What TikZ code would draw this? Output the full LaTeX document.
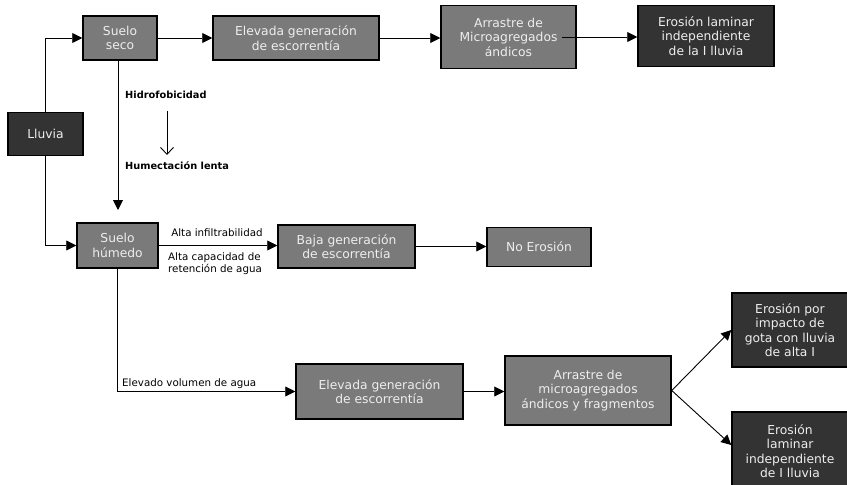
\documentclass[tikz,border=0pt]{standalone}
\usepackage{fontspec}
\setmainfont{DejaVu Sans}
\usetikzlibrary{arrows.meta}
\definecolor{boxgray}{HTML}{7A7A7A}
\definecolor{boxdark}{HTML}{333333}
\definecolor{boxtext}{HTML}{EEEEEE}
\begin{document}
\begin{tikzpicture}[x=1pt,y=-1pt,
  box/.style={draw=black,line width=1.5pt,fill=boxgray,text=boxtext,align=center,
    font=\fontsize{12.3}{14.5}\selectfont,inner sep=0pt},
  darkbox/.style={box,fill=boxdark},
  conn/.style={line width=0.9pt,-{Triangle[length=10pt,width=10pt]}},
  lbl/.style={font=\fontsize{10.3}{12.8}\selectfont,inner sep=0pt,align=left},
  blbl/.style={lbl,font=\bfseries\fontsize{9.8}{12.5}\selectfont}
]
\useasboundingbox (0,0) rectangle (847,485);
\fill[white] (0,0) rectangle (847,485);
\clip (0,0) rectangle (847,485);

% nodes
\node[darkbox,minimum width=75pt,minimum height=43pt] (lluvia) at (45.5,134) {Lluvia};
\node[box,minimum width=74pt,minimum height=44pt] (sseco) at (120,38) {Suelo\\seco};
\node[box,minimum width=166pt,minimum height=44pt] (elev1) at (296,38) {Elevada generación\\de escorrentía};
\node[box,minimum width=135pt,minimum height=63pt] (arr1) at (508.5,37) {Arrastre de\\Microagregados\\ándicos};
\node[darkbox,minimum width=136pt,minimum height=61pt] (ero1) at (706,36) {Erosión laminar\\independiente\\de la I lluvia};

\node[box,minimum width=81pt,minimum height=45pt] (shum) at (117.5,245.5) {Suelo\\húmedo};
\node[box,minimum width=137pt,minimum height=43pt] (baja) at (346.5,246.5) {Baja generación\\de escorrentía};
\node[box,minimum width=104pt,minimum height=39pt] (noero) at (539,247) {No Erosión};

\node[box,minimum width=167pt,minimum height=55pt] (elev2) at (379.5,391.5) {Elevada generación\\de escorrentía};
\node[box,minimum width=166pt,minimum height=69pt] (arr2) at (588,390.5) {Arrastre de\\microagregados\\ándicos y fragmentos};
\node[darkbox,minimum width=116pt,minimum height=74pt] (ero2) at (790,330) {Erosión por\\impacto de\\gota con lluvia\\de alta I};
\node[darkbox,minimum width=116pt,minimum height=78pt] (ero3) at (790,451) {Erosión\\laminar\\independiente\\de I lluvia};

% labels
\node[blbl,anchor=west] (hidro) at (125,95) {Hidrofobicidad};
\node[blbl,anchor=west] (humec) at (125,166) {Humectación lenta};
\node[lbl,anchor=center] (alta1) at (217,233) {Alta infiltrabilidad};
\node[lbl,anchor=north west] (alta2) at (168,252) {Alta capacidad de\\retención de agua};
\node[lbl,anchor=south west] (elvol) at (122,389) {Elevado volumen de agua};

% coordinates
\coordinate (hum) at (118,210);
\coordinate (h1) at (167,111);
\coordinate (h2) at (167,155);
\coordinate (a1s) at (562,37);

% connectors
\draw[conn] (lluvia.north) |- (sseco.west);
\draw[conn] (lluvia.south) |- (shum.west);
\draw[conn] (sseco.east) -- (elev1.west);
\draw[conn] (elev1.east) -- (elev1.east -| arr1.west);
\draw[conn] (a1s) -- (a1s -| ero1.west);
\draw[conn] (sseco.south -| hum) -- (hum);
\draw[line width=0.9pt,-{Straight Barb[length=7pt,width=13pt]}] (h1) -- (h2);
\draw[conn] (shum.east) -- (shum.east -| baja.west);
\draw[conn] (baja.east) -- (baja.east -| noero.west);
\draw[conn] (shum.south) |- (elev2.west);
\draw[conn] (elev2.east) -- (elev2.east -| arr2.west);
\draw[conn] (arr2.east) -- (ero2.west);
\draw[conn] (arr2.east) -- ([yshift=6pt]ero3.west);
\end{tikzpicture}
\end{document}
